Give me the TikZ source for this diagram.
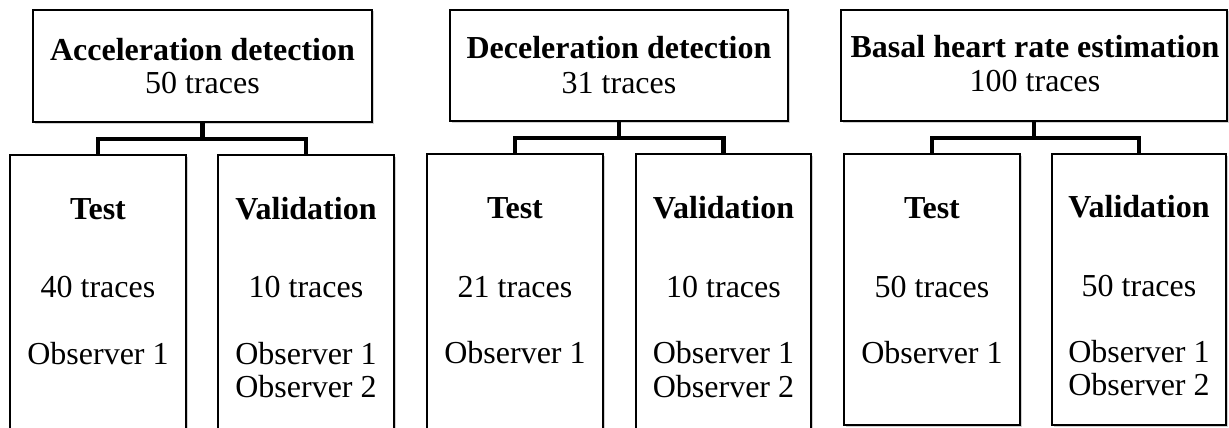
\documentclass[tikz,border=0pt]{standalone}
\usepackage{fontspec}
\setmainfont{Liberation Serif}
\usetikzlibrary{shadows}
\begin{document}
\begin{tikzpicture}[x=1pt,y=-1pt,
  box/.style={draw=black, line width=1.8pt, fill=white, inner sep=0pt,
    drop shadow={shadow xshift=1.5pt, shadow yshift=-1.5pt, fill=gray!60, opacity=0.6}},
  topbox/.style={box, minimum height=112pt},
  childbox/.style={box, minimum width=176pt},
  txt/.style={anchor=base, inner sep=0pt, font=\fontsize{32}{36}\selectfont},
  hd/.style={txt, font=\fontsize{32}{36}\selectfont\bfseries},
  conn/.style={draw=black, line width=4.5pt}]
\useasboundingbox (0,0) rectangle (1229,428);

% ---- Acceleration detection ----
\node[topbox, minimum width=339pt] (acc) at (202.5,66) {};
\node[childbox, minimum height=285pt] (acct) at (98,297.5) {};
\node[childbox, minimum height=285pt] (accv) at (306,297.5) {};
\draw[conn] (acc.south) -- (acc.south |- 0,139) coordinate (accm) -| (acct.north);
\draw[conn] (accm) -| (accv.north);
\node[hd]  (acc1) at (202.5,60) {Acceleration detection};
\node[txt] (acc2) at (202.5,93) {50 traces};
\node[hd]  (acct1) at (98,219) {Test};
\node[txt] (acct2) at (98,297) {40 traces};
\node[txt] (acct3) at (98,364) {Observer 1};
\node[hd]  (accv1) at (306,219) {Validation};
\node[txt] (accv2) at (306,297) {10 traces};
\node[txt] (accv3) at (306,364) {Observer 1};
\node[txt] (accv4) at (306,397) {Observer 2};

% ---- Deceleration detection ----
\node[topbox, minimum width=338pt, minimum height=111pt] (dec) at (619,65.5) {};
\node[childbox, minimum height=286pt] (dect) at (515,297) {};
\node[childbox, minimum height=286pt, minimum width=175pt] (decv) at (723.5,297) {};
\draw[conn] (dec.south) -- (dec.south |- 0,138) coordinate (decm) -| (dect.north);
\draw[conn] (decm) -| (decv.north);
\node[hd]  (dec1) at (619,59) {Deceleration detection};
\node[txt] (dec2) at (619,93) {31 traces};
\node[hd]  (dect1) at (515,218) {Test};
\node[txt] (dect2) at (515,297) {21 traces};
\node[txt] (dect3) at (515,363) {Observer 1};
\node[hd]  (decv1) at (723.5,218) {Validation};
\node[txt] (decv2) at (723.5,297) {10 traces};
\node[txt] (decv3) at (723.5,363) {Observer 1};
\node[txt] (decv4) at (723.5,397) {Observer 2};

% ---- Basal heart rate estimation ----
\node[topbox, minimum width=386pt, minimum height=111pt] (bhr) at (1034,65.5) {};
\node[childbox, minimum height=271pt] (bhrt) at (932,289.5) {};
\node[childbox, minimum height=271pt, minimum width=174pt] (bhrv) at (1139,289.5) {};
\draw[conn] (bhr.south) -- (bhr.south |- 0,138) coordinate (bhrm) -| (bhrt.north);
\draw[conn] (bhrm) -| (bhrv.north);
\node[hd]  (bhr1) at (1035,58) {Basal heart rate estimation};
\node[txt] (bhr2) at (1035,92) {100 traces};
\node[hd]  (bhrt1) at (932,218) {Test};
\node[txt] (bhrt2) at (932,297) {50 traces};
\node[txt] (bhrt3) at (932,363) {Observer 1};
\node[hd]  (bhrv1) at (1139,217) {Validation};
\node[txt] (bhrv2) at (1139,296) {50 traces};
\node[txt] (bhrv3) at (1139,362) {Observer 1};
\node[txt] (bhrv4) at (1139,395) {Observer 2};
\end{tikzpicture}
\end{document}
